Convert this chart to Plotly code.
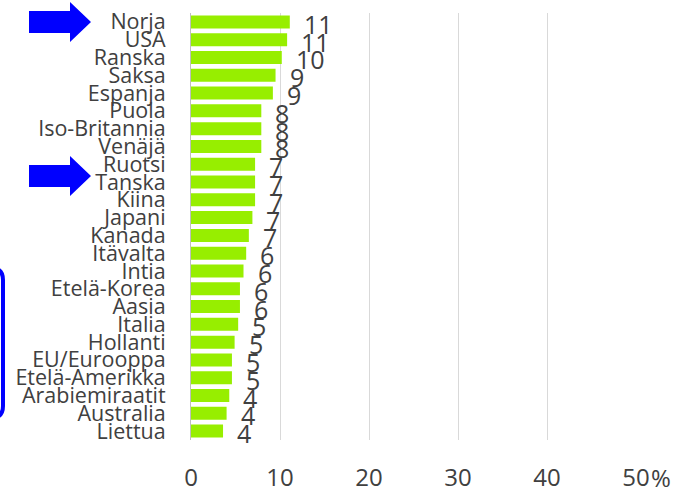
import plotly.graph_objects as go

categories = ["Norja", "USA", "Ranska", "Saksa", "Espanja", "Puola", "Iso-Britannia",
              "Venäjä", "Ruotsi", "Tanska", "Kiina", "Japani", "Kanada", "Itävalta",
              "Intia", "Etelä-Korea", "Aasia", "Italia", "Hollanti", "EU/Eurooppa",
              "Etelä-Amerikka", "Arabiemiraatit", "Australia", "Liettua"]
values = [11.1, 10.8, 10.2, 9.5, 9.2, 7.9, 7.9, 7.9, 7.2, 7.2, 7.2, 6.9, 6.5, 6.2,
          5.9, 5.5, 5.5, 5.3, 4.9, 4.6, 4.6, 4.3, 4.0, 3.6]
value_labels = ["11", "11", "10", "9", "9", "8", "8", "8", "7", "7", "7", "7", "7", "6",
                "6", "6", "6", "5", "5", "5", "5", "4", "4", "4"]
tick_vals = [0, 10, 20, 30, 40, 50]
tick_text = ["0", "10", "20", "30", "40", "50"]

W, H = 673, 487
PL, PR, PT, PB = 191, 636, 13, 440   # plot area in page pixels
ML, MR, MT, MB = PL, W - PR, PT, H - PB
PW, PH = W - ML - MR, H - MT - MB

def px(x):
    return (x - ML) / PW

def py(y):
    return (H - MB - y) / PH

TEXT = "#404040"
FONT = "Open Sans"

fig = go.Figure()
fig.add_trace(go.Bar(
    x=values, y=categories, orientation="h",
    marker=dict(color="#97EE00", line=dict(width=0)),
    hoverinfo="skip",
))

annotations = []
for c, v, t in zip(categories, values, value_labels):
    annotations.append(dict(x=v, y=c, xref="x", yref="y", text=t, showarrow=False,
                            xanchor="left", xshift=12, yshift=-2,
                            font=dict(size=25, color=TEXT, family=FONT)))
annotations.append(dict(x=50, y=0, xref="x", yref="paper", text="%", showarrow=False,
                        xanchor="left", yanchor="middle", xshift=13, yshift=-37,
                        font=dict(size=24, color=TEXT, family=FONT)))

def arrow(cy):
    x0, xb, xt = px(29), px(70), px(91)
    b1, b2 = py(cy - 11), py(cy + 11)
    h1, h2 = py(cy - 20), py(cy + 20)
    m = py(cy)
    return dict(type="path", xref="paper", yref="paper",
                path=f"M{x0},{b1} L{xb},{b1} L{xb},{h1} L{xt},{m} L{xb},{h2} L{xb},{b2} L{x0},{b2} Z",
                fillcolor="#0000FF", line=dict(width=0))

def rounded_box(x0, x1, y0, y1, r):
    X0, X1 = px(x0), px(x1)
    rx, ry = r / PW, r / PH
    Y0, Y1 = py(y0), py(y1)
    p = (f"M{X0},{Y0} L{X1 - rx},{Y0} Q{X1},{Y0} {X1},{Y0 - ry} "
         f"L{X1},{Y1 + ry} Q{X1},{Y1} {X1 - rx},{Y1} L{X0},{Y1} Z")
    return dict(type="path", xref="paper", yref="paper", path=p,
                line=dict(color="#0000FF", width=4), fillcolor="rgba(0,0,0,0)")

shapes = [arrow(22), arrow(176), rounded_box(-40, 3, 268, 418, 12)]

n = len(categories)
fig.update_layout(
    width=W, height=H,
    margin=dict(l=ML, r=MR, t=MT, b=MB, autoexpand=False),
    paper_bgcolor="white", plot_bgcolor="white",
    showlegend=False, bargap=0.27,
    font=dict(family=FONT, color=TEXT),
    annotations=annotations, shapes=shapes,
    xaxis=dict(range=[0, 50], tickmode="array", tickvals=tick_vals, ticktext=tick_text,
               showgrid=True, gridcolor="#d9d9d9", gridwidth=1, automargin=False,
               zeroline=False, showline=False, ticks="",
               ticklabelstandoff=21,
               tickfont=dict(size=24, color=TEXT, family=FONT)),
    yaxis=dict(type="category", range=[n - 0.5, -0.5], autorange=False,
               showgrid=False, zeroline=False, automargin=False,
               tickmode="array", tickvals=categories, ticktext=categories,
               showline=True, linecolor="#bfbfbf", linewidth=1, ticks="",
               ticklabelstandoff=20,
               tickfont=dict(size=21.5, color=TEXT, family=FONT)),
)

fig.write_html("out.html", config={"displayModeBar": False, "staticPlot": True},
               post_script="document.body.style.margin='0px';document.body.style.overflow='hidden';")
